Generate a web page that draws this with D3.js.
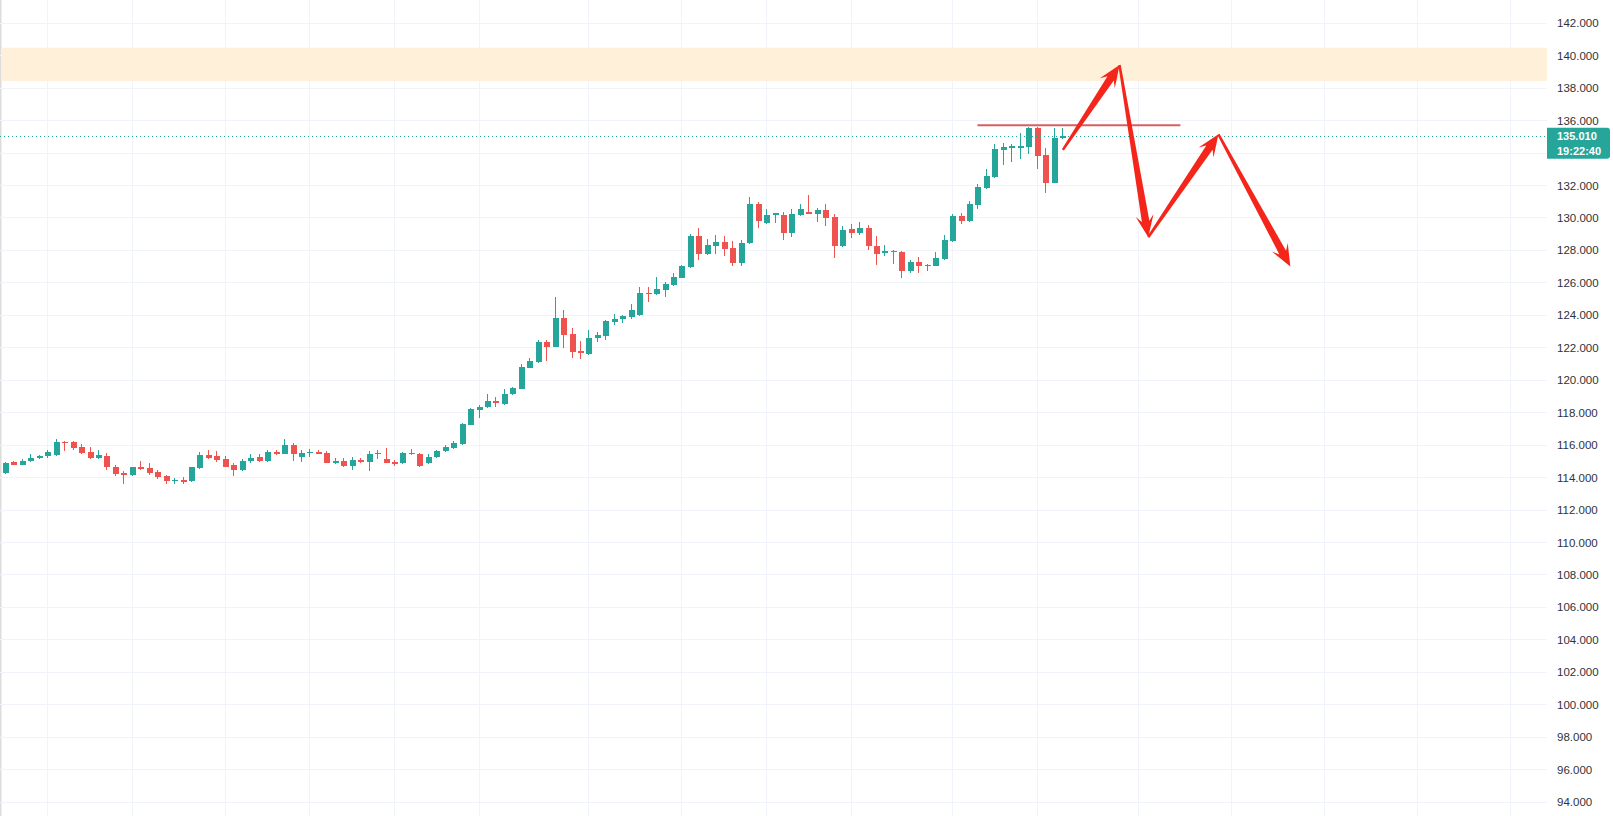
<!DOCTYPE html>
<html>
<head>
<meta charset="utf-8">
<script src="https://cdn.jsdelivr.net/npm/d3@7/dist/d3.min.js"></script>
<style>
html,body{margin:0;padding:0;background:#fff;overflow:hidden;}
svg{display:block;}
</style>
</head>
<body>
<svg id="chart" width="1613" height="816"></svg>
<script>
// ---- Data (daily candles, index 0..125) ----
const opens  = [114.25,114.92,114.77,114.97,115.15,115.3,115.35,116.15,116.15,115.85,115.55,115.15,115.33,114.65,114.25,114.1,114.62,114.55,114.33,114.05,113.75,113.85,113.75,114.58,115.37,115.32,115.12,114.72,114.43,115.0,115.25,115.0,115.55,115.45,116.0,115.25,115.5,115.55,115.5,114.9,115.0,114.7,115.05,114.95,115.45,115.12,114.95,114.85,115.5,115.4,114.85,115.25,115.6,115.8,116.05,117.23,118.15,118.3,118.7,118.5,119.1,119.45,120.75,121.12,122.33,122.04,123.83,122.82,121.77,121.6,122.59,122.7,123.58,123.72,123.88,124.0,125.37,125.3,125.53,125.85,126.29,126.97,128.86,127.75,128.26,128.51,128.1,127.2,128.4,130.83,129.68,130.17,130.15,129.02,130.17,130.32,130.21,130.46,130.0,128.26,129.27,129.06,129.35,128.24,127.8,127.95,127.9,126.72,127.28,127.0,127.03,127.47,128.57,130.08,129.8,130.77,131.83,132.5,134.16,134.3,134.3,134.36,135.5,133.85,132.14,134.9];
const highs  = [114.95,114.98,115.1,115.4,115.35,115.7,116.35,116.25,116.25,116.05,115.85,115.7,115.5,114.75,114.35,114.65,115.0,114.85,114.45,114.15,113.95,114.0,114.65,115.55,115.65,115.6,115.3,114.85,115.1,115.45,115.4,115.65,115.7,116.33,116.1,115.7,115.75,115.7,115.6,115.15,115.15,115.25,115.15,115.6,115.7,115.77,115.05,115.55,115.75,115.5,115.4,115.7,115.95,116.2,117.35,118.25,118.45,119.1,118.95,119.4,119.55,121.0,121.35,122.45,122.42,125.12,124.3,123.17,122.4,123.05,122.92,123.68,124.05,124.0,124.66,125.7,125.7,126.31,126.05,126.6,127.05,129.0,129.38,128.7,128.92,128.85,128.53,128.61,131.24,130.93,130.5,130.3,130.35,130.55,130.83,131.38,130.6,130.83,130.2,129.5,129.6,129.7,129.55,128.85,128.3,127.97,127.95,127.4,127.55,127.15,127.85,128.9,130.21,130.28,131.0,132.05,133.0,134.5,134.6,134.5,135.2,135.6,135.6,134.3,135.5,135.5];
const lows   = [114.2,114.72,114.72,114.95,115.1,115.2,115.3,115.63,115.65,115.45,115.1,115.1,114.45,114.05,113.6,114.05,114.45,114.15,113.87,113.6,113.55,113.6,113.7,114.5,115.1,114.95,114.6,114.05,114.4,114.85,114.95,114.95,115.35,115.4,115.0,114.95,115.25,115.4,114.85,114.8,114.65,114.45,114.9,114.4,115.1,114.85,114.7,114.8,115.35,114.65,114.8,115.2,115.55,115.75,116.0,117.2,117.65,118.25,118.3,118.45,119.05,119.4,120.7,121.05,121.17,122.0,121.98,121.36,121.3,121.55,122.31,122.43,123.4,123.5,123.74,123.95,124.77,125.25,125.12,125.8,126.25,126.9,127.4,127.7,127.75,127.6,126.98,127.0,128.35,129.35,129.6,129.65,128.6,128.8,130.1,130.2,129.7,129.45,127.5,128.2,128.75,128.9,128.0,127.05,127.6,127.13,126.28,126.6,126.6,126.73,126.98,127.4,128.5,129.6,129.75,130.51,131.78,132.45,133.23,133.44,133.6,133.9,133.0,131.5,132.1,134.85];
const closes = [114.87,114.77,114.98,115.2,115.3,115.55,116.15,116.1,115.8,115.5,115.15,115.35,114.62,114.2,114.15,114.6,114.52,114.24,114.03,113.78,113.85,113.72,114.6,115.38,115.15,115.05,114.65,114.43,115.0,115.2,115.0,115.55,115.44,115.97,115.4,115.5,115.55,115.45,114.9,115.0,114.7,115.05,114.95,115.45,115.5,114.9,114.8,115.5,115.4,114.7,115.25,115.6,115.85,116.12,117.27,118.2,118.35,118.7,118.55,119.1,119.5,120.78,121.18,122.35,122.04,123.83,122.78,121.73,121.63,122.55,122.76,123.64,123.74,123.93,124.3,125.33,125.28,125.58,125.9,126.31,127.0,128.86,127.75,128.3,128.51,128.06,127.18,128.45,130.83,129.8,130.15,130.25,129.02,130.21,130.5,130.21,130.46,129.95,128.26,129.23,129.06,129.35,128.24,127.75,127.93,127.85,126.72,127.28,127.03,127.1,127.48,128.6,130.08,129.8,130.83,131.9,132.55,134.2,134.33,134.4,134.4,135.5,133.8,132.14,134.88,135.01];

// price scale ticks
const priceTicks = d3.range(94, 143, 2);
// time grid (candle index of each vertical grid line)
const timeGridIdx = [5,15,26,36,46,56,69,80,90,100,112,122,134,145,156,167,178];

// annotations
const lastPrice = 135.010;
const lastLabel = ["135.010", "19:22:40"];
const zoneTop = 140.46, zoneBottom = 138.41;
const resistance = {from: 115, to: 139, price: 135.68};
const arrowPath = [[125.1,134.16],[131.8,139.39],[135.2,128.78],[143.5,135.12],[152.0,126.97]];

// ---- Layout ----
const W = 1613, H = 816, paneRight = 1547;
const svg = d3.select("#chart");
const x = d3.scaleLinear().domain([0, 178]).range([5, 1510.2]);
const y = d3.scaleLinear().domain([94, 142]).range([801.7, 22.7]);

const green = "#26a69a", red = "#ef5350", gridC = "#f0f3fa";

// left border
svg.append("rect").attr("x",0).attr("y",0).attr("width",1.5).attr("height",H).attr("fill","#dcdcdc");

// grid
const grid = svg.append("g").attr("shape-rendering","crispEdges");
grid.selectAll("line.h").data(priceTicks).join("line")
  .attr("x1",0).attr("x2",paneRight)
  .attr("y1",d=>Math.round(y(d))+0.5).attr("y2",d=>Math.round(y(d))+0.5)
  .attr("stroke",gridC).attr("stroke-width",1);
grid.selectAll("line.v").data(timeGridIdx).join("line")
  .attr("x1",d=>Math.round(x(d))+0.5).attr("x2",d=>Math.round(x(d))+0.5)
  .attr("y1",0).attr("y2",H)
  .attr("stroke",gridC).attr("stroke-width",1);

// zone
svg.append("rect")
  .attr("x",1).attr("width",paneRight-1)
  .attr("y",y(zoneTop)).attr("height",y(zoneBottom)-y(zoneTop))
  .attr("fill","#fff0da");

// candles
const candles = d3.range(opens.length).map(i=>({i,o:opens[i],h:highs[i],l:lows[i],c:closes[i]}));
const bodyW = 6;
const cg = svg.append("g").attr("shape-rendering","crispEdges");
cg.selectAll("line.wick").data(candles).join("line")
  .attr("x1",d=>Math.round(x(d.i))+0.5).attr("x2",d=>Math.round(x(d.i))+0.5)
  .attr("y1",d=>y(d.h)).attr("y2",d=>y(d.l))
  .attr("stroke",d=>d.c>=d.o?green:red).attr("stroke-width",1);
cg.selectAll("rect.body").data(candles).join("rect")
  .attr("x",d=>Math.round(x(d.i))+0.5-bodyW/2)
  .attr("width",bodyW)
  .attr("y",d=>y(Math.max(d.o,d.c)))
  .attr("height",d=>Math.max(1,Math.abs(y(d.o)-y(d.c))))
  .attr("fill",d=>d.c>=d.o?green:red);

// last price dotted line
svg.append("line")
  .attr("x1",0).attr("x2",paneRight)
  .attr("y1",Math.round(y(lastPrice))+0.5).attr("y2",Math.round(y(lastPrice))+0.5)
  .attr("stroke",green).attr("stroke-width",1).attr("stroke-dasharray","1,3");

// resistance line
svg.append("line")
  .attr("x1",x(resistance.from)).attr("x2",x(resistance.to))
  .attr("y1",y(resistance.price)).attr("y2",y(resistance.price))
  .attr("stroke","#d04545").attr("stroke-width",1.8).attr("opacity",0.85);

// arrows
const arrowColor = "#f4261b";
function arrowPoly(p0, p1){
  const dx=p1[0]-p0[0], dy=p1[1]-p0[1];
  const len=Math.hypot(dx,dy), ux=dx/len, uy=dy/len, nx=-uy, ny=ux;
  const headL=22, headW=9, neck=headL-6, w0=1.2, w1=3.8;
  const at=(t,off)=>[p0[0]+ux*t+nx*off, p0[1]+uy*t+ny*off];
  const pts=[
    at(0,w0), at(len-neck,w1), at(len-headL,headW), at(len,0),
    at(len-headL,-headW), at(len-neck,-w1), at(0,-w0)
  ];
  return pts.map(p=>p.join(",")).join(" ");
}
const ag = svg.append("g");
for(let k=0;k<arrowPath.length-1;k++){
  const p0=[x(arrowPath[k][0]), y(arrowPath[k][1])];
  const p1=[x(arrowPath[k+1][0]), y(arrowPath[k+1][1])];
  ag.append("polygon").attr("points",arrowPoly(p0,p1)).attr("fill",arrowColor);
}

// price axis
const axis = d3.axisRight(y).tickValues(priceTicks).tickFormat(d3.format(".3f")).tickSize(0).tickPadding(0);
const ax = svg.append("g").attr("transform","translate(1557,0)").call(axis);
ax.select(".domain").remove();
ax.selectAll("text")
  .attr("font-family","'Liberation Sans', Arial, sans-serif")
  .attr("font-size","11.5px").attr("fill","#2f323a").attr("dy","0.35em");

// last price label
const ly = y(lastPrice);
const lbl = svg.append("g");
lbl.append("path")
  .attr("d",`M${paneRight},${ly-8.5} H${1607} a3,3 0 0 1 3,3 V${ly+19.5} a3,3 0 0 1 -3,3 H${paneRight} Z`)
  .attr("fill",green);
lbl.selectAll("text").data(lastLabel).join("text")
  .attr("x",1557).attr("y",(d,i)=>ly+0.5+i*14.5).attr("dy","0.35em")
  .attr("font-family","'Liberation Sans', Arial, sans-serif")
  .attr("font-size","11px").attr("fill","#fff").attr("font-weight","bold")
  .text(d=>d);
</script>
</body>
</html>
